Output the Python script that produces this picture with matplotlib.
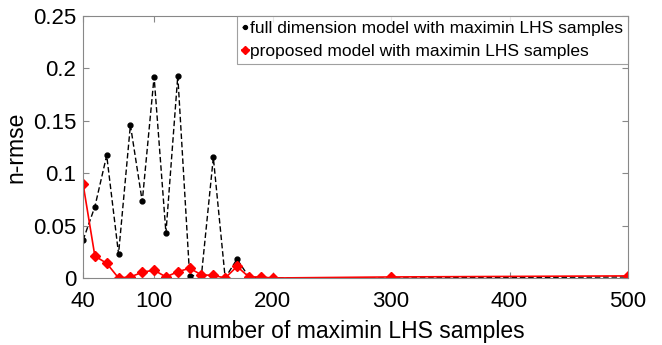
"""n-rmse versus number of maximin LHS samples."""

import matplotlib
matplotlib.use("Agg")
import matplotlib.pyplot as plt

samples = [40, 50, 60, 70, 80, 90, 100, 110, 120, 130, 140, 150, 160, 170,
           180, 190, 200, 300, 500]
full_model = [0.036, 0.068, 0.117, 0.023, 0.146, 0.073, 0.192, 0.043, 0.193,
              0.002, 0.003, 0.115, 0.0, 0.018, 0.001, 0.0, 0.0, 0.0, 0.001]
proposed_model = [0.090, 0.021, 0.014, 0.0, 0.001, 0.0055, 0.0075, 0.001,
                  0.006, 0.0093, 0.003, 0.0025, 0.0, 0.011, 0.001, 0.001,
                  0.0, 0.001, 0.002]
xticks = [40, 100, 200, 300, 400, 500]
xtick_labels = ["40", "100", "200", "300", "400", "500"]
yticks = [0, 0.05, 0.1, 0.15, 0.2, 0.25]
ytick_labels = ["0", "0.05", "0.1", "0.15", "0.2", "0.25"]

plt.rcParams["font.family"] = ["Liberation Sans", "DejaVu Sans"]

fig = plt.figure(figsize=(6.62, 3.45), dpi=100)
ax = fig.add_axes([0.1254, 0.1942, 0.8232, 0.7594])

ax.plot(samples, full_model, color="black", linestyle="--", linewidth=1.0,
        marker="o", markersize=3.5, dashes=(4, 2),
        label="full dimension model with maximin LHS samples")
ax.plot(samples, proposed_model, color="red", linewidth=1.2,
        marker="D", markersize=5,
        label="proposed model with maximin LHS samples")

ax.set_xlim(40, 500)
ax.set_ylim(0, 0.25)
ax.set_xticks(xticks)
ax.set_xticklabels(xtick_labels)
ax.set_yticks(yticks)
ax.set_yticklabels(ytick_labels)
ax.tick_params(direction="in", top=True, right=True, labelsize=16,
               length=4, color="#888888")
ax.tick_params(axis="x", pad=9)
ax.tick_params(axis="y", pad=5)
for spine in ax.spines.values():
    spine.set_color("#888888")

ax.set_xlabel("number of maximin LHS samples", fontsize=16.5, labelpad=6)
ax.set_ylabel("n-rmse", fontsize=16.5, labelpad=4)

leg = ax.legend(loc="upper right", fontsize=12.5, frameon=True, fancybox=False,
                handlelength=0.4, handletextpad=0.05, borderpad=0.3,
                labelspacing=0.42, borderaxespad=0.0, markerscale=0.8)
leg.get_frame().set_edgecolor("#888888")
leg.get_frame().set_linewidth(0.8)

fig.savefig("out.png", dpi=100)
plt.close(fig)
